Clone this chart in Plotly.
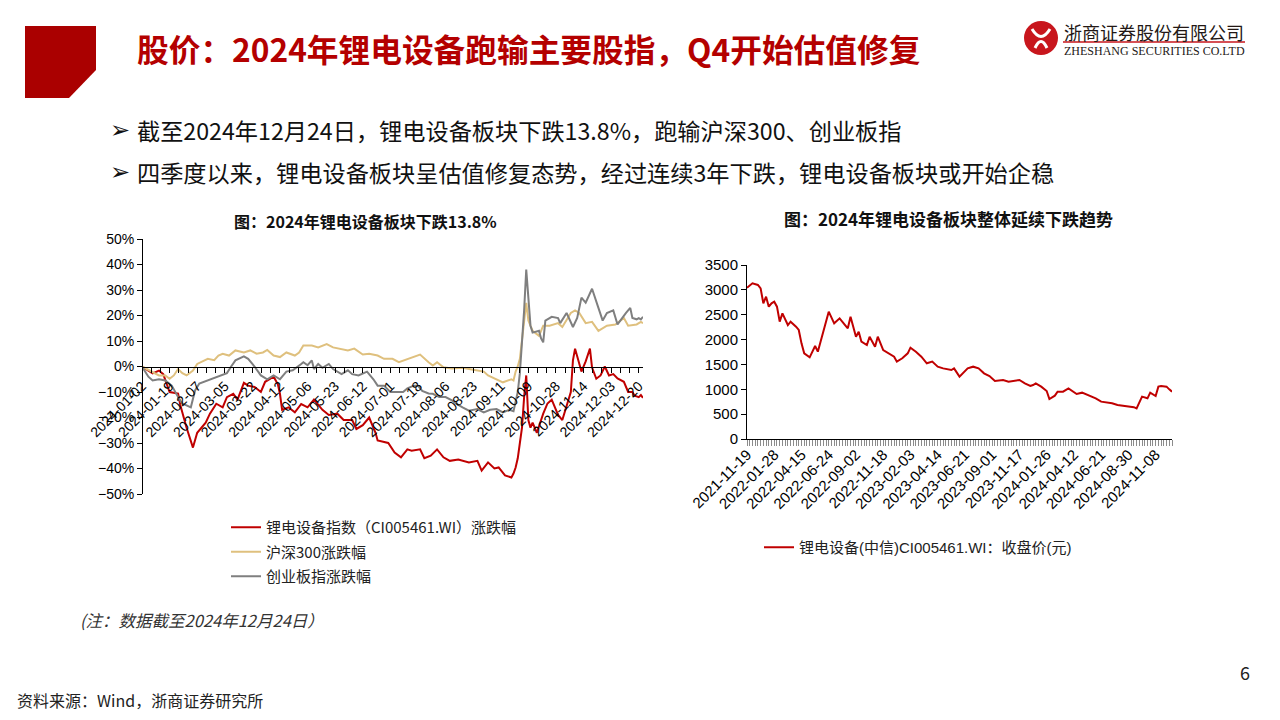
import plotly.graph_objects as go
import pandas as pd

W, H = 1280, 720
def px(x): return x / W
def py(y): return 1 - y / H

CJK = "Noto Sans CJK SC"
LAT = "Liberation Sans, Noto Sans CJK SC"

# ---------------- calendars (categories) ----------------
holidays_2024 = ["2024-02-09", "2024-02-12", "2024-02-13", "2024-02-14", "2024-02-15", "2024-02-16",
                 "2024-04-04", "2024-04-05", "2024-05-01", "2024-05-02", "2024-05-03", "2024-06-10",
                 "2024-09-16", "2024-09-17", "2024-10-01", "2024-10-02", "2024-10-03", "2024-10-04",
                 "2024-10-07"]
trade_days = [d.strftime("%Y-%m-%d") for d in pd.bdate_range("2024-01-02", "2024-12-24")
              if d.strftime("%Y-%m-%d") not in holidays_2024]

week_skip = {"2022-02-04", "2022-10-07", "2023-01-27", "2023-10-06", "2024-02-16"}
week_swap = {"2022-06-03": "2022-06-02", "2023-06-23": "2023-06-21", "2023-09-29": "2023-09-28",
             "2024-02-09": "2024-02-08", "2024-04-05": "2024-04-03", "2024-05-03": "2024-04-30",
             "2024-10-04": "2024-09-30"}
weeks = []
for d in pd.date_range("2021-11-19", "2024-12-20", freq="W-FRI"):
    s = d.strftime("%Y-%m-%d")
    if s in week_skip:
        continue
    weeks.append(week_swap.get(s, s))

# ---------------- left chart data (% change) ----------------
left_ticks = ["2024-01-02", "2024-01-19", "2024-02-07", "2024-03-05", "2024-03-22", "2024-04-12",
              "2024-05-06", "2024-05-23", "2024-06-12", "2024-07-01", "2024-07-18", "2024-08-06",
              "2024-08-23", "2024-09-11", "2024-10-09", "2024-10-28", "2024-11-14", "2024-12-03",
              "2024-12-20"]

red_dates = ["2024-01-02", "2024-01-09", "2024-01-12", "2024-01-16", "2024-01-19", "2024-01-25", "2024-01-26",
             "2024-01-31", "2024-02-05", "2024-02-07", "2024-02-21", "2024-02-23", "2024-02-28", "2024-03-04",
             "2024-03-06", "2024-03-11", "2024-03-13", "2024-03-18", "2024-03-20", "2024-03-25", "2024-03-28",
             "2024-04-01", "2024-04-09", "2024-04-11", "2024-04-12", "2024-04-15", "2024-04-18", "2024-04-23",
             "2024-04-26", "2024-05-06", "2024-05-09", "2024-05-13", "2024-05-15", "2024-05-20", "2024-05-24",
             "2024-05-29", "2024-06-04", "2024-06-06", "2024-06-12", "2024-06-17", "2024-06-20", "2024-06-21",
             "2024-06-28", "2024-07-03", "2024-07-08", "2024-07-11", "2024-07-15", "2024-07-19", "2024-07-23",
             "2024-07-26", "2024-07-31", "2024-08-05", "2024-08-08", "2024-08-14", "2024-08-21", "2024-08-27",
             "2024-08-29", "2024-09-03", "2024-09-06", "2024-09-10", "2024-09-13", "2024-09-20", "2024-09-23",
             "2024-09-24", "2024-09-25", "2024-09-26", "2024-09-27", "2024-09-30", "2024-10-08", "2024-10-09",
             "2024-10-10", "2024-10-11", "2024-10-15", "2024-10-18", "2024-10-22", "2024-10-24", "2024-10-29",
             "2024-10-31", "2024-11-04", "2024-11-06", "2024-11-07", "2024-11-08", "2024-11-11", "2024-11-13",
             "2024-11-15", "2024-11-19", "2024-11-20", "2024-11-22", "2024-11-26", "2024-11-28", "2024-12-02",
             "2024-12-04", "2024-12-06", "2024-12-11", "2024-12-13", "2024-12-17", "2024-12-18", "2024-12-20",
             "2024-12-23", "2024-12-24"]
red_vals = [0, -2.7, -1.6, -3.0, -10.0, -10.6, -15.0,
            -24.0, -31.8, -26.0, -22.0, -18.5, -14.6, -16.0,
            -12.0, -10.7, -13.0, -6.4, -7.5, -8.0, -10.0,
            -6.0, -4.0, -7.0, -10.8, -17.0, -16.0, -18.0,
            -14.7, -16.0, -13.0, -15.0, -17.0, -19.0, -18.5,
            -21.0, -21.0, -24.5, -23.0, -20.0, -26.0, -29.0,
            -30.0, -33.7, -35.6, -32.5, -33.0, -32.5, -36.0,
            -35.0, -32.5, -35.6, -37.0, -36.5, -37.6, -37.0,
            -40.8, -37.6, -40.0, -39.6, -42.7, -43.5, -42.0,
            -39.6, -36.0, -30.0, -24.0, -12.0, -3.5, -21.0,
            -24.0, -22.0, -26.0, -18.5, -14.5, -13.0, -19.0,
            -21.0, -15.0, -10.0, 2.4, 7.0, 4.0, -2.0,
            2.0, 7.0, -0.4, -4.8, -3.5, 0.0, -3.5,
            -3.0, -4.7, -6.0, -10.0, -10.0, -11.4, -12.0,
            -11.2, -12.3]

hs300_dates = ["2024-01-02", "2024-01-09", "2024-01-12", "2024-01-17", "2024-01-19", "2024-01-23", "2024-01-25",
               "2024-01-29", "2024-01-31", "2024-02-05", "2024-02-07", "2024-02-22", "2024-02-27", "2024-02-29",
               "2024-03-04", "2024-03-07", "2024-03-12", "2024-03-18", "2024-03-21", "2024-03-26", "2024-03-29",
               "2024-04-02", "2024-04-09", "2024-04-12", "2024-04-17", "2024-04-23", "2024-04-25", "2024-04-29",
               "2024-05-08", "2024-05-13", "2024-05-17", "2024-05-22", "2024-05-27", "2024-05-31", "2024-06-05",
               "2024-06-12", "2024-06-17", "2024-06-21", "2024-06-26", "2024-07-02", "2024-07-05", "2024-07-11",
               "2024-07-16", "2024-07-19", "2024-07-25", "2024-07-29", "2024-07-31", "2024-08-05", "2024-08-09",
               "2024-08-16", "2024-08-23", "2024-08-30", "2024-09-03", "2024-09-12", "2024-09-20", "2024-09-23",
               "2024-09-24", "2024-09-25", "2024-09-26", "2024-09-27", "2024-09-30", "2024-10-08", "2024-10-09",
               "2024-10-10", "2024-10-11", "2024-10-16", "2024-10-18", "2024-10-23", "2024-10-29", "2024-10-31",
               "2024-11-06", "2024-11-08", "2024-11-12", "2024-11-15", "2024-11-20", "2024-11-25", "2024-11-29",
               "2024-12-05", "2024-12-11", "2024-12-13", "2024-12-19", "2024-12-23", "2024-12-24"]
hs300_vals = [0, -2.2, -3.5, -3.5, -4.8, -3.5, -1.0,
              -2.6, -3.5, -1.6, 1.0, 3.0, 2.5, 4.3,
              5.0, 4.3, 6.3, 5.5, 6.3, 5.0, 5.5,
              6.5, 4.3, 3.7, 5.5, 4.3, 5.5, 8.2,
              8.2, 7.5, 8.8, 7.5, 7.0, 6.3, 7.0,
              4.7, 5.0, 4.3, 3.0, 3.0, 1.7, 3.0,
              4.0, 4.7, 1.7, 0.4, 1.7, -0.3, -0.8,
              -0.5, -1.3, -2.0, -3.5, -6.2, -5.0, -5.5,
              -2.0, 0.0, 3.0, 10.0, 18.0, 25.0, 18.0,
              16.0, 14.0, 12.0, 16.0, 16.0, 17.0, 15.5,
              21.0, 22.0, 21.0, 17.0, 17.5, 14.0, 16.0,
              16.5, 19.0, 16.0, 16.5, 17.5, 17.0]

cyb_dates = ["2024-01-02", "2024-01-05", "2024-01-09", "2024-01-12", "2024-01-17", "2024-01-22", "2024-01-25",
             "2024-01-29", "2024-02-02", "2024-02-06", "2024-02-08", "2024-02-22", "2024-02-26", "2024-03-01",
             "2024-03-06", "2024-03-08", "2024-03-12", "2024-03-18", "2024-03-20", "2024-03-22", "2024-03-25",
             "2024-03-28", "2024-04-02", "2024-04-09", "2024-04-12", "2024-04-17", "2024-04-22", "2024-04-26",
             "2024-04-29", "2024-05-06", "2024-05-08", "2024-05-09", "2024-05-13", "2024-05-15", "2024-05-20",
             "2024-05-22", "2024-05-24", "2024-05-28", "2024-05-31", "2024-06-04", "2024-06-07", "2024-06-14",
             "2024-06-19", "2024-06-21", "2024-06-26", "2024-07-01", "2024-07-04", "2024-07-09", "2024-07-11",
             "2024-07-16", "2024-07-18", "2024-07-22", "2024-07-25", "2024-07-29", "2024-08-01", "2024-08-06",
             "2024-08-09", "2024-08-13", "2024-08-16", "2024-08-21", "2024-08-27", "2024-08-30", "2024-09-04",
             "2024-09-09", "2024-09-12", "2024-09-19", "2024-09-23", "2024-09-24", "2024-09-25", "2024-09-26",
             "2024-09-27", "2024-09-30", "2024-10-08", "2024-10-09", "2024-10-10", "2024-10-11", "2024-10-16",
             "2024-10-17", "2024-10-18", "2024-10-21", "2024-10-24", "2024-10-29", "2024-10-30", "2024-11-04",
             "2024-11-06", "2024-11-07", "2024-11-11", "2024-11-13", "2024-11-15", "2024-11-19", "2024-11-20",
             "2024-11-25", "2024-11-27", "2024-11-29", "2024-12-04", "2024-12-06", "2024-12-10", "2024-12-12",
             "2024-12-16", "2024-12-17", "2024-12-19", "2024-12-20", "2024-12-23", "2024-12-24"]
cyb_vals = [0, -4.0, -5.5, -5.0, -5.5, -7.5, -12.0,
            -14.5, -16.0, -9.4, -6.7, -5.5, -5.0, -3.5,
            -2.6, 0.0, 2.4, 4.0, 3.0, 1.0, 0.0,
            -3.5, -5.0, -3.5, -5.0, -2.0, -1.5, 1.0,
            1.7, 0.5, 2.4, -1.0, 1.0, -0.5, 1.0,
            -1.0, -2.0, -3.0, -1.5, -3.0, -3.5, -2.0,
            -5.0, -7.5, -7.5, -10.0, -10.0, -10.0, -8.6,
            -7.5, -7.5, -9.6, -10.6, -10.7, -12.0, -12.0,
            -13.3, -14.6, -16.0, -17.3, -16.7, -18.0, -17.0,
            -16.7, -18.0, -17.0, -17.5, -13.3, -10.0, -2.6,
            8.0, 22.0, 38.0, 27.0, 16.0, 13.3, 14.0,
            11.0, 9.5, 18.0, 19.5, 19.0, 17.0, 21.0,
            17.0, 15.5, 19.0, 27.0, 25.0, 29.0, 30.5,
            23.0, 18.0, 21.0, 22.0, 16.5, 19.0, 21.0,
            23.0, 19.0, 18.5, 19.0, 18.5, 19.5]

# ---------------- right chart data (close) ----------------
right_ticks = ["2021-11-19", "2022-01-28", "2022-04-15", "2022-06-24", "2022-09-02", "2022-11-18",
               "2023-02-03", "2023-04-14", "2023-06-21", "2023-09-01", "2023-11-17", "2024-01-26",
               "2024-04-12", "2024-06-21", "2024-08-30", "2024-11-08"]

close_dates = ["2021-11-19", "2021-12-03", "2021-12-17", "2021-12-24", "2021-12-31", "2022-01-07", "2022-01-14",
               "2022-01-21", "2022-01-28", "2022-02-11", "2022-02-18", "2022-02-25", "2022-03-11", "2022-03-18",
               "2022-04-01", "2022-04-08", "2022-04-15", "2022-04-22", "2022-05-06", "2022-05-20", "2022-05-27",
               "2022-06-10", "2022-06-24", "2022-07-08", "2022-07-22", "2022-08-05", "2022-08-12", "2022-08-19",
               "2022-09-02", "2022-09-09", "2022-09-16", "2022-09-30", "2022-10-14", "2022-10-28", "2022-11-04",
               "2022-11-18", "2022-12-02", "2022-12-16", "2022-12-23", "2023-01-06", "2023-01-20", "2023-02-03",
               "2023-02-17", "2023-03-03", "2023-03-17", "2023-03-31", "2023-04-14", "2023-04-28", "2023-05-19",
               "2023-05-26", "2023-06-09", "2023-06-21", "2023-06-30", "2023-07-14", "2023-07-28", "2023-08-11",
               "2023-08-25", "2023-09-08", "2023-09-28", "2023-10-20", "2023-11-03", "2023-11-17", "2023-12-01",
               "2023-12-15", "2023-12-22", "2023-12-29", "2024-01-12", "2024-01-26", "2024-02-02", "2024-02-23",
               "2024-03-01", "2024-03-15", "2024-03-29", "2024-04-19", "2024-04-30", "2024-05-17", "2024-05-31",
               "2024-06-07", "2024-06-21", "2024-07-05", "2024-07-19", "2024-08-02", "2024-08-16", "2024-09-06",
               "2024-09-13", "2024-09-20", "2024-09-30", "2024-10-18", "2024-10-25", "2024-11-08", "2024-11-15",
               "2024-11-22", "2024-12-06", "2024-12-13", "2024-12-20"]
close_vals = [3044, 3131, 3098, 3031, 2729, 2863, 2662,
              2729, 2762, 2662, 2360, 2528, 2293, 2360,
              2260, 2193, 1924, 1723, 1643, 1871, 1757,
              2159, 2561, 2327, 2427, 2293, 2226, 2461,
              2058, 2159, 1958, 1891, 2058, 1857, 2058,
              1790, 1723, 1656, 1556, 1623, 1723, 1837,
              1757, 1656, 1522, 1556, 1455, 1421, 1388,
              1421, 1254, 1354, 1421, 1455, 1421, 1321,
              1267, 1167, 1187, 1153, 1173, 1187, 1120,
              1066, 1086, 1120, 1053, 966, 805, 872,
              952, 952, 1019, 905, 932, 885, 852,
              818, 751, 738, 717, 684, 671, 650,
              640, 617, 852, 818, 932, 865, 1053,
              1066, 1053, 999, 952]

# ---------------- figure ----------------
RED = "#C00000"
GOLD = "#DFC07E"
GRAY = "#7F7F7F"

fig = go.Figure()

# category scaffolds (so every trading day / week occupies a slot)
fig.add_trace(go.Scatter(x=trade_days, y=[None] * len(trade_days), mode="lines", showlegend=False,
                         hoverinfo="skip", xaxis="x", yaxis="y"))
fig.add_trace(go.Scatter(x=weeks, y=[None] * len(weeks), mode="lines", showlegend=False,
                         hoverinfo="skip", xaxis="x2", yaxis="y2"))

fig.add_trace(go.Scatter(x=red_dates, y=red_vals, mode="lines", name="锂电设备指数（CI005461.WI）涨跌幅",
                         line=dict(color=RED, width=2), xaxis="x", yaxis="y", legend="legend",
                         legendgroup="a"))
fig.add_trace(go.Scatter(x=hs300_dates, y=hs300_vals, mode="lines", name="沪深300涨跌幅",
                         line=dict(color=GOLD, width=2), xaxis="x", yaxis="y", legend="legend",
                         legendgroup="b"))
fig.add_trace(go.Scatter(x=cyb_dates, y=cyb_vals, mode="lines", name="创业板指涨跌幅",
                         line=dict(color=GRAY, width=2), xaxis="x", yaxis="y", legend="legend",
                         legendgroup="c"))
fig.add_trace(go.Scatter(x=close_dates, y=close_vals, mode="lines", name="锂电设备(中信)CI005461.WI：收盘价(元)",
                         line=dict(color=RED, width=2), xaxis="x2", yaxis="y2", legend="legend2"))

# dummy traces for tick-mark overlay axes
fig.add_trace(go.Scatter(x=[0], y=[None], mode="lines", showlegend=False, hoverinfo="skip",
                         xaxis="x3", yaxis="y"))
fig.add_trace(go.Scatter(x=[0], y=[None], mode="lines", showlegend=False, hoverinfo="skip",
                         xaxis="x4", yaxis="y2"))

L_dom = [px(142), px(643)]
L_ydom = [py(494), py(239)]
zero_pos = (L_ydom[0] + L_ydom[1]) / 2
R_dom = [px(747), px(1172)]
R_ydom = [py(439), py(265)]

fig.update_layout(
    width=W, height=H, margin=dict(l=0, r=0, t=0, b=0, pad=0, autoexpand=False),
    paper_bgcolor="white", plot_bgcolor="white",
    showlegend=True,
    xaxis=dict(type="category", categoryorder="array", categoryarray=trade_days,
               range=[0, len(trade_days) - 1], domain=L_dom, anchor="free", position=zero_pos,
               tickmode="array", tickvals=left_ticks, ticktext=left_ticks, tickangle=-45,
               ticks="outside", ticklen=5, tickcolor="black", showline=True, linecolor="black",
               linewidth=1, showgrid=False, zeroline=False, automargin=False,
               tickfont=dict(family=LAT, size=14, color="black")),
    xaxis3=dict(overlaying="x", type="linear", range=[0, len(trade_days) - 1], anchor="free",
                position=zero_pos, tickmode="linear", tick0=0, dtick=13 / 3, ticks="outside",
                ticklen=5, tickcolor="black", showticklabels=False, showline=False, showgrid=False,
                zeroline=False, automargin=False),
    yaxis=dict(range=[-50, 50], domain=L_ydom, anchor="free", position=L_dom[0], dtick=10,
               ticksuffix="%", ticks="outside", ticklen=5, tickcolor="black", showline=True,
               linecolor="black", linewidth=1, showgrid=False, zeroline=False, automargin=False,
               tickfont=dict(family=LAT, size=14, color="black")),
    xaxis2=dict(type="category", categoryorder="array", categoryarray=weeks,
                range=[0, len(weeks) - 1], domain=R_dom, anchor="y2",
                tickmode="array", tickvals=right_ticks, ticktext=right_ticks, tickangle=-45,
                ticks="", showline=True, linecolor="black", linewidth=1, showgrid=False, zeroline=False,
                automargin=False, tickfont=dict(family=LAT, size=15, color="black")),
    xaxis4=dict(overlaying="x2", type="linear", range=[0, len(weeks) - 1], anchor="y2",
                tickmode="linear", tick0=0, dtick=1, ticks="outside", ticklen=6, tickcolor="#8c8c8c",
                showticklabels=False, showline=False, showgrid=False, zeroline=False, automargin=False),
    yaxis2=dict(range=[0, 3500], domain=R_ydom, anchor="x2", dtick=500, ticks="outside", ticklen=5,
                tickcolor="black", showline=True, linecolor="black", linewidth=1, showgrid=False,
                zeroline=False, automargin=False, tickfont=dict(family=LAT, size=15, color="black")),
    legend=dict(x=px(226), y=py(511), xanchor="left", yanchor="top", bgcolor="rgba(0,0,0,0)",
                font=dict(family=CJK, size=15, color="#222"), itemwidth=30, tracegroupgap=2,
                traceorder="grouped"),
    legend2=dict(x=px(759), y=py(531), xanchor="left", yanchor="top", bgcolor="rgba(0,0,0,0)",
                 font=dict(family=LAT, size=15, color="#222"), itemwidth=30),
)

# ---------------- decorations ----------------
def path(pts, close=True):
    s = "M " + " L ".join(f"{px(x)},{py(y)}" for x, y in pts)
    return s + (" Z" if close else "")

fig.add_shape(type="path", xref="paper", yref="paper",
              path=path([(25, 26), (96, 26), (96, 70), (69, 98), (25, 98)]),
              fillcolor="#AA0000", line=dict(width=0))

# logo
fig.add_shape(type="circle", xref="paper", yref="paper", x0=px(1024), x1=px(1058), y0=py(55), y1=py(21),
              fillcolor="#C8161D", line=dict(width=0))
fig.add_shape(type="path", xref="paper", yref="paper",
              path=f"M {px(1032)},{py(29)} Q {px(1041)},{py(44)} {px(1050)},{py(29)}",
              line=dict(color="white", width=3))
fig.add_shape(type="path", xref="paper", yref="paper",
              path=f"M {px(1035)},{py(48)} Q {px(1041)},{py(35)} {px(1047)},{py(48)}",
              line=dict(color="white", width=3))
fig.add_shape(type="line", xref="paper", yref="paper", x0=px(1063), x1=px(1245), y0=py(42), y1=py(42),
              line=dict(color="#C8161D", width=1.5))

def ann(text, x, y, size, color="#000", family=CJK, xanchor="left", yanchor="middle"):
    fig.add_annotation(text=text, x=px(x), y=py(y), xref="paper", yref="paper", showarrow=False,
                       xanchor=xanchor, yanchor=yanchor, font=dict(size=size, color=color, family=family))

ann("<b>股价：2024年锂电设备跑输主要股指，Q4开始估值修复</b>", 135, 48, 31.7, color="#B40000",
    family="Liberation Sans Narrow, Noto Sans CJK SC")
ann("浙商证券股份有限公司", 1062, 32, 18, color="#231815")
ann("ZHESHANG SECURITIES CO.LTD", 1062, 51, 12, color="#231815", family="Liberation Serif, DejaVu Serif")

ann("<b>➢</b>", 108, 130, 24, color="#111", family="DejaVu Sans")
ann("截至2024年12月24日，锂电设备板块下跌13.8%，跑输沪深300、创业板指", 135, 130, 23.2, color="#111")
ann("<b>➢</b>", 108, 172, 24, color="#111", family="DejaVu Sans")
ann("四季度以来，锂电设备板块呈估值修复态势，经过连续3年下跌，锂电设备板块或开始企稳", 135, 172, 23.2,
    color="#111")

ann("<b>图：2024年锂电设备板块下跌13.8%</b>", 365, 221, 16, color="#111", xanchor="center")
ann("<b>图：2024年锂电设备板块整体延续下跌趋势</b>", 948, 218, 17, color="#111", xanchor="center")

ann("<i>(注：数据截至2024年12月24日）</i>", 78, 620, 16.5, color="#333")
ann("资料来源：Wind，浙商证券研究所", 15, 700, 16, color="#222")
ann("6", 1245, 672, 18, color="#222", xanchor="center")

fig.write_html("out.html", config={"displayModeBar": False},
               post_script="document.body.style.margin='0px';")
